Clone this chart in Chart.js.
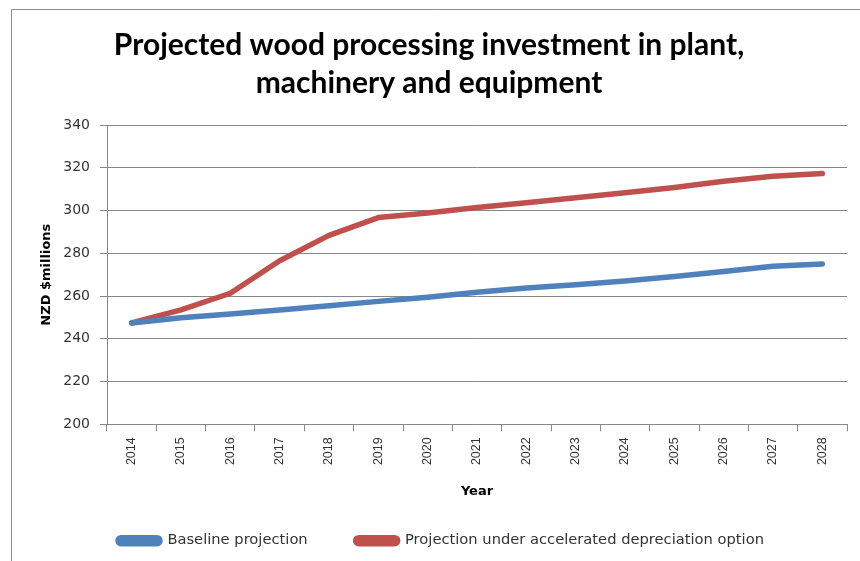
<!DOCTYPE html>
<html>
<head>
<meta charset="utf-8">
<script src="https://cdn.jsdelivr.net/npm/chart.js@4.4.1/dist/chart.umd.min.js"></script>
<style>
    html, body { margin: 0; padding: 0; background: #fff; }
    #wrap { width: 860px; height: 561px; position: relative; }
</style>
</head>
<body>
<div id="wrap"><canvas id="chart" width="860" height="561"></canvas></div>
<script>
// Data
const years = ['2014', '2015', '2016', '2017', '2018', '2019', '2020', '2021',
               '2022', '2023', '2024', '2025', '2026', '2027', '2028'];
const baseline = [247.4, 249.8, 251.6, 253.5, 255.5, 257.5, 259.4, 261.8,
                  263.8, 265.3, 267.0, 269.1, 271.5, 273.9, 275.0];
const accelerated = [247.4, 253.5, 261.3, 276.5, 288.4, 296.7, 298.8, 301.4,
                     303.6, 306.0, 308.3, 310.8, 313.7, 316.0, 317.3];
const titleLines = ['Projected wood processing investment in plant,', 'machinery and equipment'];
const yMin = 200;
const yMax = 340;
const yStep = 20;

const GRID = '#878787';
const TEXT = '#333333';

// Outer frame (only top and left edges fall inside the window)
const framePlugin = {
    id: 'frame',
    beforeDraw(chart) {
        const ctx = chart.ctx;
        ctx.save();
        ctx.strokeStyle = '#8c8c8c';
        ctx.lineWidth = 1;
        ctx.beginPath();
        ctx.moveTo(11.5, 561);
        ctx.lineTo(11.5, 9.5);
        ctx.lineTo(860, 9.5);
        ctx.stroke();
        ctx.restore();
    }
};

// The legend in the reference sits a little right of centre
const legendShift = {
    id: 'legendShift',
    afterLayout(chart) {
        chart.legend.left += 12;
        chart.legend.right += 12;
    }
};

const ctx = document.getElementById('chart').getContext('2d');
const chart = new Chart(ctx, {
    type: 'line',
    data: {
        labels: years,
        datasets: [{
            label: 'Baseline projection',
            data: baseline,
            borderColor: '#4F81BD',
            backgroundColor: '#4F81BD',
            borderWidth: 5.5,
            borderCapStyle: 'round',
            borderJoinStyle: 'round',
            tension: 0,
            pointRadius: 0
        }, {
            label: 'Projection under accelerated depreciation option',
            data: accelerated,
            borderColor: '#C0504D',
            backgroundColor: '#C0504D',
            borderWidth: 5.5,
            borderCapStyle: 'round',
            borderJoinStyle: 'round',
            tension: 0,
            pointRadius: 0
        }]
    },
    options: {
        responsive: false,
        animation: false,
        layout: {
            padding: { left: 11, right: 13, top: 0, bottom: 3 }
        },
        plugins: {
            title: {
                display: true,
                text: titleLines,
                color: '#000',
                font: { family: 'Lato', size: 30, weight: 'bold', lineHeight: 1.267 },
                padding: { top: 26, bottom: 23 }
            },
            legend: {
                position: 'bottom',
                labels: {
                    color: TEXT,
                    font: { family: 'DejaVu Sans', size: 14.7 },
                    boxWidth: 42,
                    boxHeight: 6,
                    useBorderRadius: true,
                    borderRadius: 3,
                    padding: 48
                }
            },
            tooltip: { enabled: false }
        },
        scales: {
            x: {
                offset: true,
                grid: {
                    offset: true,
                    drawOnChartArea: false,
                    drawTicks: true,
                    tickLength: 7,
                    color: GRID
                },
                border: { color: GRID },
                ticks: {
                    color: TEXT,
                    font: { family: 'Liberation Sans', size: 12.5 },
                    minRotation: 90,
                    maxRotation: 90,
                    padding: 6,
                    autoSkip: false
                },
                title: {
                    display: true,
                    text: 'Year',
                    color: '#000',
                    font: { family: 'DejaVu Sans', size: 13, weight: 'bold' },
                    padding: { top: 0, bottom: -14 }
                },
                afterFit(scale) { scale.height = 61; }
            },
            y: {
                min: yMin,
                max: yMax,
                grid: {
                    color: GRID,
                    tickLength: 7
                },
                border: { color: GRID },
                ticks: {
                    stepSize: yStep,
                    color: TEXT,
                    font: { family: 'DejaVu Sans', size: 14 },
                    padding: 10
                },
                title: {
                    display: true,
                    text: 'NZD $millions',
                    color: '#000',
                    font: { family: 'DejaVu Sans', size: 13, weight: 'bold' },
                    padding: { top: 28, bottom: 0 }
                },
                afterFit(scale) { scale.width = 96; }
            }
        }
    },
    plugins: [framePlugin, legendShift]
});
</script>
</body>
</html>
